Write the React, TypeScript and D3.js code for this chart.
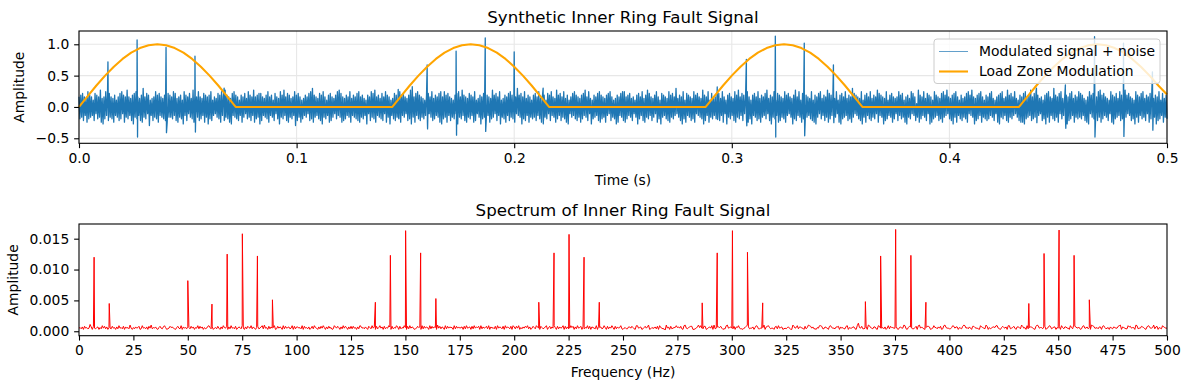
import React, { useRef, useEffect } from "react";
import * as d3 from "d3";

const WIDTH = 1189;
const HEIGHT = 389;

// time signal noise band over 0..0.5 s, read as alternating upper / lower
// excursions (one letter per excursion, 'm' = 0, step 0.027)
const noiseLevels = "abcdefghijklmnopqrstuvwxy";
const noiseStep = 0.027;
const noiseUpper = [
  "stusrvtsqutswrsvtusrtqsuvtswsrtuvsrtxsutqrsvtusrtsu",
  "tsvurstqvtsurwtsvsrutstvqsrutvswtsruvtsqtsurvtswstu",
  "usrtvstqusrvtwsutrsvtusqrtsuvxtsrutvsqtusrtvwusrtsv",
  "rtsuvstrqtsvuwstrusvtsqrutsvtusrtwysuvtsrqtusvrtsuv",
  "svtusrqtuvswtsrutsvqrtsuvtsrwtusvqrtsuvtrsxtusvrtsq",
  "tusvrstqutvsrwtusvrtqsuvtsrtuwsvrqtsuvtsrtuvsqrtsuv",
  "vstursqtusvrtwusrtvsqutsrvtusxrtsvqutsrvtusrwtsvqur",
  "sturvsqtusrvtwsutrvsqtusvrtsuwrtsvqutsrvtusrtwsvqu",
  "utsrvqtsuvrtswutsrvqtusvrtsxutsrvqtusvrtswutsrvqtus",
  "rsvtuqstrvusowtsvrutsqvtsruvtwsrtuvsqtrsuvtwsrtuvsq",
  "tsuvrqstuvrswtusvrqtsuvrtwsuvtrsqtuvsrxtsuvrqtsuvrt",
  "svutrqsvtursvwtusrqvtsurvtswtusrqvtsuvrtsuwrtsvqurt",
];
const noiseLower = [
  "fgehdfgheifgdcfhegfdhgefidgfhecgfhedgfibhegfdhgfedg",
  "gfhedgfcheigfdhgefhdgcfehigfdhegfdchgfehdgifgehdfgc",
  "ehgfdhgeifcgfhedgfhbegdfhgiefdghfecgfhdegifhgdefhgd",
  "hgfedgfhciegfdhgfeidgchfegfdhgiefcgdhfegfhdigefhgdc",
  "fgdhegficgfhedgfhdeigcfgehdfgiehcgfdhegfdihgcfehdgf",
  "gehfdcgfiehgdfhegfdcighfegdfhgeicfghedfgdhiegfcdhge",
  "dfhgeigcfhedgfhegidfcghfedgfhigecfdhgefdihgfcehdgfh",
  "fgehdicgfhedgfheigdfchgefdghfiecgfhdegfdhigcfehgdfe",
  "ghfedcgifhegdfhegidcfghefdgihfecgdhfegfidhgcefhgdfi",
  "ehfgdcgfihegdfhgeicdfghefdghifecgdhfegfdihgcefhdgfe",
  "fhgeidcgfhedgfhigeddcfghefgdhiefcgdhfegdifhgcefhdgf",
  "gfhedcigfhegdfhgeidcfghefdgihefcgdhfgeidfhgcefhdgfe",
];

// impacts of the inner ring fault (s, upper and lower tips)
const spikeTimes = [0.0133, 0.0267, 0.04, 0.0533, 0.0667, 0.1467, 0.16, 0.1733, 0.1867, 0.2, 0.2133, 0.2933, 0.3067, 0.32, 0.3333, 0.3467, 0.44, 0.4533, 0.4667, 0.48, 0.4933];
const spikeHigh = [0.72, 1.07, 0.95, 0.81, 0.3, 0.28, 0.67, 0.89, 1.1, 0.88, 0.3, 0.32, 0.76, 1.13, 1.02, 0.67, 0.3, 0.35, 1.12, 1.02, 0.56];
const spikeLow = [-0.15, -0.48, -0.41, -0.4, -0.2, -0.18, -0.35, -0.45, -0.39, -0.22, -0.18, -0.2, -0.3, -0.48, -0.46, -0.25, -0.25, -0.34, -0.48, -0.47, -0.37];

// load zone modulation, sampled every 0.004 s
const loadStep = 0.004;
const loadValues = [
  0, 0.174, 0.342, 0.5, 0.643, 0.766, 0.866, 0.94, 0.985, 1, 0.985, 0.94, 0.866, 0.766, 0.643, 0.5, 0.342, 0.174, 0,
  0, 0, 0, 0, 0, 0, 0, 0, 0, 0, 0, 0, 0, 0, 0, 0, 0,
  0, 0.174, 0.342, 0.5, 0.643, 0.766, 0.866, 0.94, 0.985, 1, 0.985, 0.94, 0.866, 0.766, 0.643, 0.5, 0.342, 0.174, 0,
  0, 0, 0, 0, 0, 0, 0, 0, 0, 0, 0, 0, 0, 0, 0, 0, 0,
  0, 0.174, 0.342, 0.5, 0.643, 0.766, 0.866, 0.94, 0.985, 1, 0.985, 0.94, 0.866, 0.766, 0.643, 0.5, 0.342, 0.174, 0,
  0, 0, 0, 0, 0, 0, 0, 0, 0, 0, 0, 0, 0, 0, 0, 0, 0,
  0, 0.174, 0.342, 0.5, 0.643, 0.766, 0.866, 0.94, 0.985, 1, 0.985, 0.94, 0.866, 0.766, 0.643, 0.5, 0.342, 0.2,
];

// spectrum noise floor, 0..500 Hz, one base-36 digit per bin (value = (d + 1) * 1e-4)
const floorRows = [
  "4536274534a627435625384736254374526384537264539425",
  "3645723845362749354632574368523475643257438264537",
  "5374625483746253478536245374263854726384537246538",
  "4263754836425734683945273645823746528374563482736",
  "6453827453624738542637485263745238647526384752637",
  "374526387453642753846273584627354862735486273548",
  "5273846523475628374652837465294736528374655283746",
  "4562738456273846572836457382645372846537284653728",
  "6374825364758362475386427534682573648527364582736",
  "3485726384572635483726543827563485273648527364583",
  "2453366475328845623574692354463728543319462734558",
  "5647328943567722346958437723564829346657423389456",
  "4372658433245796344625873344592678534426738456234",
  "3564229745836644273598746332548873365427854436672",
  "6453378254466328c54733462985436632874453624837554",
  "4732564498325764335728946432577623485536472389544",
  "3358746625437984536427754432865439725346658843257",
  "5462883457426653974528356643279845536724587346625",
  "4728536644285397645523784463529874453662785345264",
  "3654478926543386745529834476532687445936725438654",
  "4",
];

// spectral peaks: fault frequency harmonics with load-zone sidebands
const peakFreqs = [6.94, 13.9, 50, 61.1, 68.1, 75.07, 82.0, 88.9, 136.2, 143.1, 150.1, 157.0, 164.0, 211.3, 218.3, 225.2, 232.1, 239.1, 286.4, 293.3, 300.3, 307.2, 314.2, 361.4, 368.4, 375.3, 382.3, 389.2, 436.5, 443.5, 450.4, 457.3, 464.3];
const peakAmps = [0.012, 0.0045, 0.0082, 0.0044, 0.0125, 0.0158, 0.0122, 0.0051, 0.0047, 0.0123, 0.0163, 0.0127, 0.0053, 0.0047, 0.0127, 0.0157, 0.012, 0.0047, 0.0046, 0.0127, 0.0163, 0.0128, 0.0046, 0.0048, 0.0122, 0.0165, 0.0123, 0.0047, 0.0045, 0.0126, 0.0164, 0.0123, 0.0051];

const timeTicks = [0, 0.1, 0.2, 0.3, 0.4, 0.5];
const ampTicks = [-0.5, 0, 0.5, 1.0];
const freqTicks = d3.range(0, 501, 25);
const specTicks = [0, 0.005, 0.01, 0.015];

const FONT = "DejaVu Sans, sans-serif";
const TICK = 4.86;

const App = () => {
  const svgRef = useRef<SVGSVGElement>(null);

  useEffect(() => {
    const svg = d3.select(svgRef.current);
    svg.selectAll("*").remove();

    const top = { left: 79, right: 1167, top: 31, bottom: 143.3 };
    const bot = { left: 79, right: 1167, top: 224, bottom: 335.7 };

    // ---------- top: time signal ----------
    const x1 = d3.scaleLinear().domain([0, 0.5]).range([top.left, top.right]);
    const y1 = d3.scaleLinear().domain([-0.58, 1.212]).range([top.bottom, top.top]);

    const toVal = (c: string) => (noiseLevels.indexOf(c) - 12) * noiseStep;
    const up = noiseUpper.join("").split("").map(toVal);
    const lo = noiseLower.join("").split("").map(toVal);
    const noise: number[] = [];
    for (let i = 0; i < Math.min(up.length, lo.length); i++) noise.push(up[i], lo[i]);
    const sig: [number, number][] = noise.map((v, i) => [(i * 0.5) / (noise.length - 1), v]);
    spikeTimes.forEach((t, i) => {
      sig.push([t, spikeHigh[i]]);
      sig.push([t + 0.0002, spikeLow[i]]);
    });
    sig.sort((a, b) => a[0] - b[0]);

    const g1 = svg.append("g");
    // grid
    g1.selectAll(".gx")
      .data(timeTicks)
      .enter()
      .append("line")
      .attr("x1", (d) => x1(d))
      .attr("x2", (d) => x1(d))
      .attr("y1", top.top)
      .attr("y2", top.bottom)
      .attr("stroke", "#e7e7e7")
      .attr("stroke-width", 1.1);
    g1.selectAll(".gy")
      .data(ampTicks)
      .enter()
      .append("line")
      .attr("x1", top.left)
      .attr("x2", top.right)
      .attr("y1", (d) => y1(d))
      .attr("y2", (d) => y1(d))
      .attr("stroke", "#e7e7e7")
      .attr("stroke-width", 1.1);

    const line1 = d3.line<[number, number]>().x((d) => x1(d[0])).y((d) => y1(d[1]));
    g1.append("path")
      .attr("d", line1(sig))
      .attr("fill", "none")
      .attr("stroke", "#1f77b4")
      .attr("stroke-width", 1.3)
      .attr("stroke-linejoin", "round");

    const load: [number, number][] = loadValues.map((v, i) => [i * loadStep, v]);
    g1.append("path")
      .attr("d", line1(load))
      .attr("fill", "none")
      .attr("stroke", "orange")
      .attr("stroke-width", 2.08)
      .attr("stroke-linejoin", "round");

    const ax1 = g1.append("g").attr("transform", `translate(0,${top.bottom})`)
      .call(d3.axisBottom(x1).tickValues(timeTicks).tickFormat(d3.format(".1f")).tickSize(TICK).tickPadding(TICK).tickSizeOuter(0));
    const ay1 = g1.append("g").attr("transform", `translate(${top.left},0)`)
      .call(d3.axisLeft(y1).tickValues(ampTicks).tickFormat(d3.format(".1f")).tickSize(TICK).tickPadding(TICK).tickSizeOuter(0));

    g1.append("rect")
      .attr("x", top.left)
      .attr("y", top.top)
      .attr("width", top.right - top.left)
      .attr("height", top.bottom - top.top)
      .attr("fill", "none")
      .attr("stroke", "black")
      .attr("stroke-width", 1.1);

    // legend
    const lg = g1.append("g");
    lg.append("rect")
      .attr("x", 934)
      .attr("y", 39)
      .attr("width", 226)
      .attr("height", 44.5)
      .attr("rx", 3)
      .attr("fill", "white")
      .attr("fill-opacity", 0.8)
      .attr("stroke", "#cccccc")
      .attr("stroke-width", 1);
    const items = [
      { label: "Modulated signal + noise", color: "#1f77b4", w: 0.7 },
      { label: "Load Zone Modulation", color: "orange", w: 2.08 },
    ];
    items.forEach((it, i) => {
      const yy = 51.5 + i * 20;
      lg.append("line").attr("x1", 939).attr("x2", 968).attr("y1", yy).attr("y2", yy)
        .attr("stroke", it.color).attr("stroke-width", it.w);
      lg.append("text").attr("x", 979).attr("y", yy + 4.9).attr("font-size", 13.89).text(it.label);
    });

    g1.append("text")
      .attr("x", (top.left + top.right) / 2)
      .attr("y", 22.7)
      .attr("text-anchor", "middle")
      .attr("font-size", 16.67)
      .text("Synthetic Inner Ring Fault Signal");
    g1.append("text")
      .attr("x", (top.left + top.right) / 2)
      .attr("y", 184.5)
      .attr("text-anchor", "middle")
      .attr("font-size", 13.89)
      .text("Time (s)");
    g1.append("text")
      .attr("transform", `translate(24,${(top.top + top.bottom) / 2}) rotate(-90)`)
      .attr("text-anchor", "middle")
      .attr("font-size", 13.89)
      .text("Amplitude");

    // ---------- bottom: spectrum ----------
    const x2 = d3.scaleLinear().domain([0, 500]).range([bot.left, bot.right]);
    const y2 = d3.scaleLinear().domain([-0.00072, 0.01738]).range([bot.bottom, bot.top]);

    const floor = floorRows.join("").split("").map((c) => (parseInt(c, 36) + 1) * 0.0001);
    const spec: [number, number][] = floor.map((v, i) => [(i * 500) / (floor.length - 1), v]);
    peakFreqs.forEach((f, i) => spec.push([f, peakAmps[i]]));
    spec.sort((a, b) => a[0] - b[0]);

    const g2 = svg.append("g");
    const line2 = d3.line<[number, number]>().x((d) => x2(d[0])).y((d) => y2(d[1]));
    g2.append("path")
      .attr("d", line2(spec))
      .attr("fill", "none")
      .attr("stroke", "red")
      .attr("stroke-width", 1.0)
      .attr("stroke-linejoin", "round");

    const ax2 = g2.append("g").attr("transform", `translate(0,${bot.bottom})`)
      .call(d3.axisBottom(x2).tickValues(freqTicks).tickFormat(d3.format("d")).tickSize(TICK).tickPadding(TICK).tickSizeOuter(0));
    const ay2 = g2.append("g").attr("transform", `translate(${bot.left},0)`)
      .call(d3.axisLeft(y2).tickValues(specTicks).tickFormat(d3.format(".3f")).tickSize(TICK).tickPadding(TICK).tickSizeOuter(0));

    g2.append("rect")
      .attr("x", bot.left)
      .attr("y", bot.top)
      .attr("width", bot.right - bot.left)
      .attr("height", bot.bottom - bot.top)
      .attr("fill", "none")
      .attr("stroke", "black")
      .attr("stroke-width", 1.1);

    g2.append("text")
      .attr("x", (bot.left + bot.right) / 2)
      .attr("y", 215.7)
      .attr("text-anchor", "middle")
      .attr("font-size", 16.67)
      .text("Spectrum of Inner Ring Fault Signal");
    g2.append("text")
      .attr("x", (bot.left + bot.right) / 2)
      .attr("y", 376.9)
      .attr("text-anchor", "middle")
      .attr("font-size", 13.89)
      .text("Frequency (Hz)");
    g2.append("text")
      .attr("transform", `translate(18,${(bot.top + bot.bottom) / 2}) rotate(-90)`)
      .attr("text-anchor", "middle")
      .attr("font-size", 13.89)
      .text("Amplitude");

    // axis styling
    [ax1, ay1, ax2, ay2].forEach((a) => {
      a.select(".domain").remove();
      a.selectAll("line").attr("stroke", "black").attr("stroke-width", 1.1);
      a.selectAll("text").attr("font-size", 13.89).attr("font-family", FONT).attr("fill", "black");
    });
  }, []);

  return (
    <svg
      ref={svgRef}
      width={WIDTH}
      height={HEIGHT}
      style={{ position: "absolute", left: 0, top: 0, background: "white" }}
      fontFamily={FONT}
    />
  );
};

export default App;
